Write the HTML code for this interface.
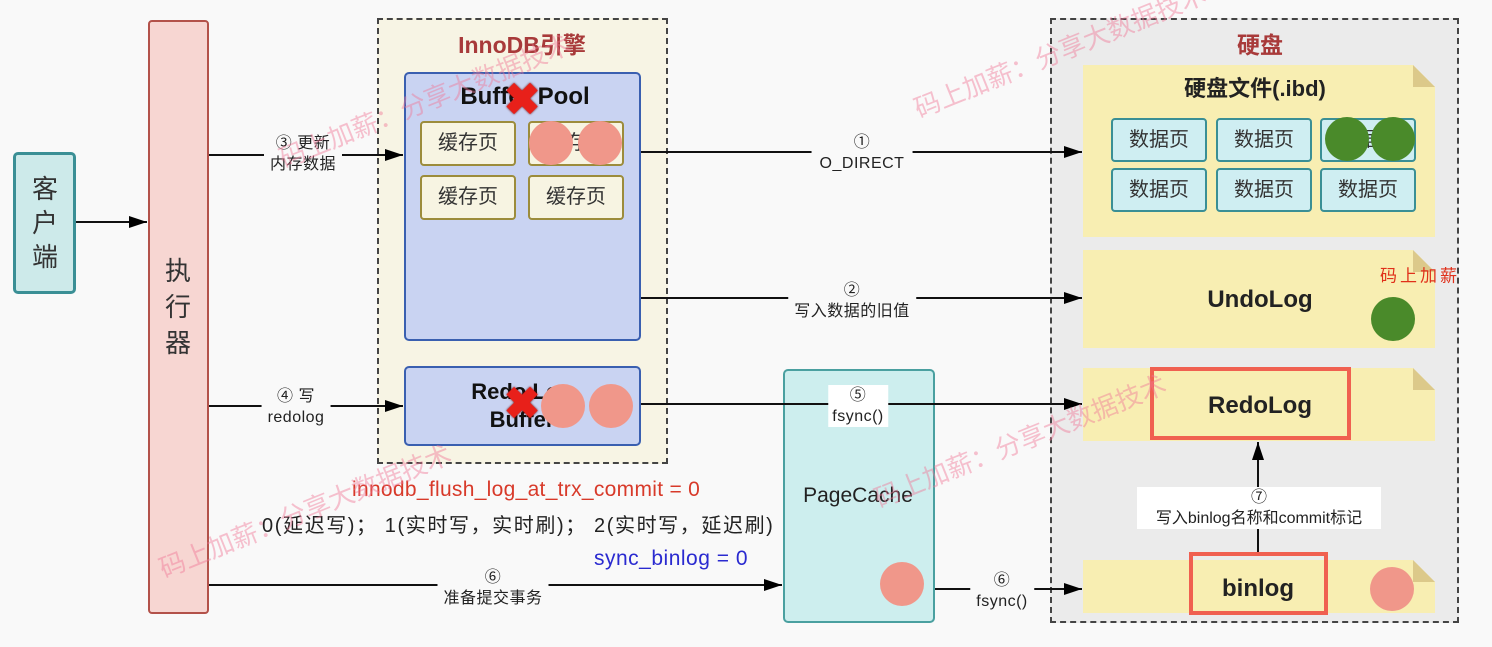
<!DOCTYPE html>
<html><head><meta charset="utf-8"><style>
body{margin:0;width:1492px;height:647px;background:#f9f9f9;position:relative;overflow:hidden;font-family:"Liberation Sans","Noto Sans CJK SC",sans-serif;}
.a{position:absolute;box-sizing:border-box;}
.t{position:absolute;white-space:nowrap;transform:translate(-50%,-50%);}
.cp{position:absolute;box-sizing:border-box;background:#f7f4e2;border:2px solid #9c8c3c;border-radius:4px;width:96px;height:45px;font-size:20px;text-align:center;line-height:41px;color:#333;}
.dp{position:absolute;box-sizing:border-box;background:#cfeef2;border:2px solid #3a8f95;border-radius:4px;width:96px;height:44px;font-size:20px;text-align:center;line-height:40px;color:#333;}
.c{position:absolute;border-radius:50%;width:44px;height:44px;transform:translate(-50%,-50%);}
.pk{background:#f0978a}.gr{background:#4a8a2a}
.file{position:absolute;background:#f8eeb2;clip-path:polygon(0 0,calc(100% - 22px) 0,100% 22px,100% 100%,0 100%);}
.fold{position:absolute;width:22px;height:22px;background:#dcc98a;clip-path:polygon(0 0,100% 100%,0 100%);}
.x{position:absolute;color:#e8201a;font-size:44px;font-weight:bold;transform:translate(-50%,-50%);text-shadow:0 0 2px #600;}
.wm{position:absolute;color:rgba(240,120,150,0.45);font-size:26px;white-space:nowrap;transform-origin:left center;}
.lb{font-size:16px;color:#222;text-align:center;line-height:21px;letter-spacing:0.5px;}
</style></head><body>
<div class="a" style="left:13px;top:152px;width:63px;height:142px;background:#cdeaea;border:3px solid #3a8f95;border-radius:5px;"></div>
<div class="t" style="left:45px;top:223px;font-size:26px;line-height:34px;width:30px;text-align:center;color:#333;">客<br>户<br>端</div>
<div class="a" style="left:148px;top:20px;width:61px;height:594px;background:#f7d6d2;border:2px solid #b3524a;border-radius:4px;"></div>
<div class="t" style="left:178px;top:307px;font-size:26px;line-height:36px;width:30px;text-align:center;color:#333;">执<br>行<br>器</div>
<div class="a" style="left:377px;top:18px;width:291px;height:446px;background:#f7f4e4;border:2px dashed #444;"></div>
<div class="t" style="left:522px;top:43px;font-size:23px;font-weight:bold;color:#a83a3a;">InnoDB引擎</div>
<div class="a" style="left:404px;top:72px;width:237px;height:269px;background:#c9d3f2;border:2px solid #3a5fb0;border-radius:5px;"></div>
<div class="t" style="left:525px;top:97px;font-size:24px;font-weight:bold;color:#111;">Buffer Pool</div>
<div class="cp" style="left:420px;top:121px;">缓存页</div>
<div class="cp" style="left:528px;top:121px;">缓存页</div>
<div class="cp" style="left:420px;top:175px;">缓存页</div>
<div class="cp" style="left:528px;top:175px;">缓存页</div>
<div class="c pk" style="left:551px;top:143px;"></div>
<div class="c pk" style="left:600px;top:143px;"></div>
<div class="x" style="left:522px;top:100px;">✖</div>
<div class="a" style="left:404px;top:366px;width:237px;height:80px;background:#c9d3f2;border:2px solid #3a5fb0;border-radius:5px;"></div>
<div class="t" style="left:522px;top:406px;font-size:22px;font-weight:bold;color:#111;text-align:center;line-height:28px;">Redo Log<br>Buffer</div>
<div class="c pk" style="left:563px;top:406px;"></div>
<div class="c pk" style="left:611px;top:406px;"></div>
<div class="x" style="left:522px;top:404px;">✖</div>
<div class="a" style="left:1050px;top:18px;width:409px;height:605px;background:#ebebeb;border:2px dashed #444;"></div>
<div class="t" style="left:1260px;top:43px;font-size:23px;font-weight:bold;color:#a83a3a;">硬盘</div>
<div class="file" style="left:1083px;top:65px;width:352px;height:172px;"></div><div class="fold" style="left:1413px;top:65px;"></div>
<div class="t" style="left:1255px;top:87px;font-size:22px;font-weight:bold;color:#222;">硬盘文件(.ibd)</div>
<div class="dp" style="left:1111px;top:118px;">数据页</div><div class="dp" style="left:1216px;top:118px;">数据页</div><div class="dp" style="left:1320px;top:118px;">数据页</div>
<div class="dp" style="left:1111px;top:168px;">数据页</div><div class="dp" style="left:1216px;top:168px;">数据页</div><div class="dp" style="left:1320px;top:168px;">数据页</div>
<div class="c gr" style="left:1347px;top:139px;"></div><div class="c gr" style="left:1393px;top:139px;"></div>
<div class="file" style="left:1083px;top:250px;width:352px;height:98px;"></div><div class="fold" style="left:1413px;top:250px;"></div>
<div class="t" style="left:1260px;top:300px;font-size:24px;font-weight:bold;color:#222;">UndoLog</div>
<div class="c gr" style="left:1393px;top:319px;"></div>
<div class="t" style="left:1420px;top:274px;font-size:17px;color:#e0301a;letter-spacing:3px;">码上加薪</div>
<div class="file" style="left:1083px;top:368px;width:352px;height:73px;"></div><div class="fold" style="left:1413px;top:368px;"></div>
<div class="a" style="left:1150px;top:367px;width:201px;height:73px;border:4px solid #f06050;"></div>
<div class="t" style="left:1260px;top:406px;font-size:24px;font-weight:bold;color:#222;">RedoLog</div>
<div class="file" style="left:1083px;top:560px;width:352px;height:53px;"></div><div class="fold" style="left:1413px;top:560px;"></div>
<div class="a" style="left:1189px;top:552px;width:139px;height:63px;border:4px solid #f06050;"></div>
<div class="t" style="left:1258px;top:589px;font-size:24px;font-weight:bold;color:#222;">binlog</div>
<div class="c pk" style="left:1392px;top:589px;"></div>
<div class="a" style="left:783px;top:369px;width:152px;height:254px;background:#cdeeee;border:2px solid #4aa0a0;border-radius:5px;"></div>
<div class="t" style="left:858px;top:496px;font-size:21px;color:#222;">PageCache</div>
<div class="c pk" style="left:902px;top:584px;"></div>
<svg class="a" style="left:0;top:0" width="1492" height="647">
<defs><marker id="m2" markerWidth="18" markerHeight="12" refX="18" refY="6" orient="auto" markerUnits="userSpaceOnUse"><path d="M0,0L18,6L0,12z" fill="#000"/></marker></defs>
<g stroke="#111" stroke-width="2" fill="none">
<line x1="76" y1="222" x2="147" y2="222" marker-end="url(#m2)"/>
<line x1="209" y1="155" x2="403" y2="155" marker-end="url(#m2)"/>
<line x1="209" y1="406" x2="403" y2="406" marker-end="url(#m2)"/>
<line x1="641" y1="152" x2="1082" y2="152" marker-end="url(#m2)"/>
<line x1="641" y1="298" x2="1082" y2="298" marker-end="url(#m2)"/>
<line x1="641" y1="404" x2="1082" y2="404" marker-end="url(#m2)"/>
<line x1="209" y1="585" x2="782" y2="585" marker-end="url(#m2)"/>
<line x1="935" y1="589" x2="1082" y2="589" marker-end="url(#m2)"/>
<line x1="1258" y1="552" x2="1258" y2="442" marker-end="url(#m2)"/>
</g></svg>
<div class="t lb" style="left:303px;top:154px;background:#f9f9f9;padding:0 6px;">③ 更新<br>内存数据</div>
<div class="t lb" style="left:296px;top:407px;background:#f9f9f9;padding:0 6px;">④ 写<br>redolog</div>
<div class="t lb" style="left:862px;top:153px;background:#f9f9f9;padding:0 8px;">①<br>O_DIRECT</div>
<div class="t lb" style="left:852px;top:301px;background:#f9f9f9;padding:0 6px;">②<br>写入数据的旧值</div>
<div class="t lb" style="left:858px;top:406px;background:#fff;padding:0 4px;">⑤<br>fsync()</div>
<div class="t lb" style="left:493px;top:588px;background:#f9f9f9;padding:0 6px;">⑥<br>准备提交事务</div>
<div class="t lb" style="left:1002px;top:591px;background:#f9f9f9;padding:0 6px;">⑥<br>fsync()</div>
<div class="t lb" style="left:1259px;top:508px;background:#fff;width:244px;letter-spacing:0;">⑦<br>写入binlog名称和commit标记</div>
<div class="a" style="left:352px;top:478px;font-size:21px;color:#d83a2a;white-space:nowrap;letter-spacing:0.3px;">innodb_flush_log_at_trx_commit = 0</div>
<div class="a" style="left:262px;top:509px;font-size:20px;color:#222;white-space:nowrap;letter-spacing:1.6px;">0(延迟写)； 1(实时写，实时刷)； 2(实时写，延迟刷)</div>
<div class="a" style="left:594px;top:547px;font-size:21px;color:#2a2ad0;white-space:nowrap;letter-spacing:0.5px;">sync_binlog = 0</div>
<div class="wm" style="left:280px;top:140px;transform:rotate(-22deg);">码上加薪：分享大数据技术</div>
<div class="wm" style="left:160px;top:550px;transform:rotate(-22deg);">码上加薪：分享大数据技术</div>
<div class="wm" style="left:915px;top:90px;transform:rotate(-22deg);">码上加薪：分享大数据技术</div>
<div class="wm" style="left:875px;top:480px;transform:rotate(-22deg);">码上加薪：分享大数据技术</div>
</body></html>
